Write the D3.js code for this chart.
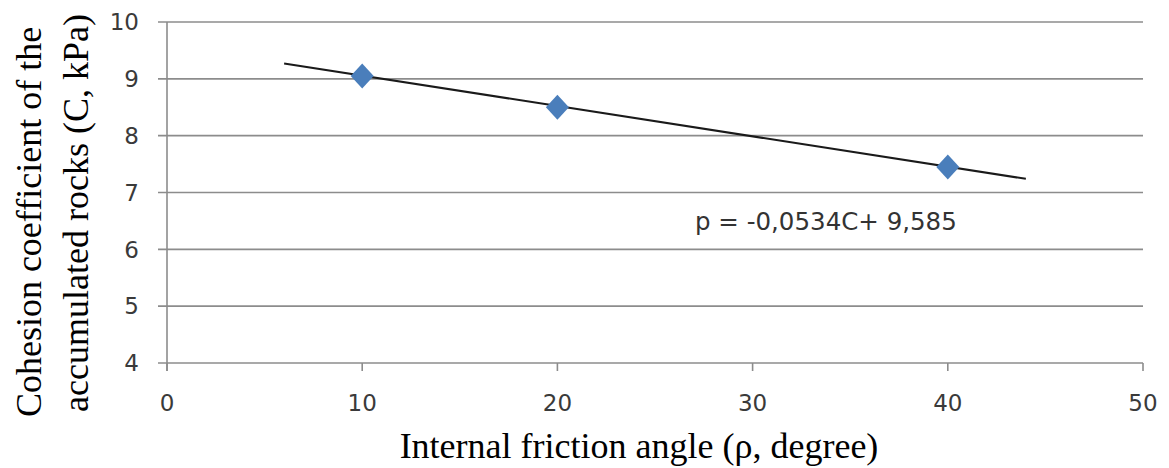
<!DOCTYPE html>
<html><head><meta charset="utf-8">
<script src="https://cdn.jsdelivr.net/npm/d3@7"></script>
<style>body{margin:0;background:#fff}svg{display:block}</style>
</head><body>
<script>
const xValues = [10, 20, 40];
const yValues = [9.05, 8.5, 7.45];
const trendX = [6, 44];
const trendY = [9.27, 7.24];
const xTicks = [0, 10, 20, 30, 40, 50];
const yTicks = [4, 5, 6, 7, 8, 9, 10];
const equationText = "p = -0,0534C+ 9,585";
const xTitle = "Internal friction angle (\u03c1, degree)";
const yTitleLines = ["Cohesion coefficient of the", "accumulated rocks (C, kPa)"];

const W = 1169, H = 468;
const svg = d3.select("body").append("svg").attr("width", W).attr("height", H);
const x = d3.scaleLinear().domain([0, 50]).range([167, 1143]);
const y = d3.scaleLinear().domain([4, 10]).range([363, 22]);
const gridColor = "#8c8c8c";
const tickFont = "'DejaVu Sans', Verdana, sans-serif";

// gridlines
svg.append("g").selectAll("line").data(yTicks).join("line")
  .attr("x1", x(0) - 9).attr("x2", x(50))
  .attr("y1", d => y(d)).attr("y2", d => y(d))
  .attr("stroke", gridColor).attr("stroke-width", 1.6);

// y axis line
svg.append("line").attr("x1", x(0)).attr("x2", x(0)).attr("y1", y(10)).attr("y2", y(4) + 8)
  .attr("stroke", gridColor).attr("stroke-width", 1.6);

// x ticks
svg.append("g").selectAll("line").data(xTicks).join("line")
  .attr("x1", d => x(d)).attr("x2", d => x(d)).attr("y1", y(4)).attr("y2", y(4) + 8)
  .attr("stroke", gridColor).attr("stroke-width", 1.6);

// tick labels
svg.append("g").selectAll("text").data(yTicks).join("text")
  .attr("x", 139).attr("y", d => y(d)).attr("dy", "0.36em")
  .attr("text-anchor", "end").attr("font-family", tickFont)
  .attr("font-size", 23).attr("fill", "#3a3a3a").text(d => d);
svg.append("g").selectAll("text").data(xTicks).join("text")
  .attr("x", d => x(d)).attr("y", 403).attr("dy", "0.36em")
  .attr("text-anchor", "middle").attr("font-family", tickFont)
  .attr("font-size", 23).attr("fill", "#3a3a3a").text(d => d);

// trendline
svg.append("line")
  .attr("x1", x(trendX[0])).attr("y1", y(trendY[0]))
  .attr("x2", x(trendX[1])).attr("y2", y(trendY[1]))
  .attr("stroke", "#1a1a1a").attr("stroke-width", 2);

// markers
const pts = xValues.map((v, i) => [v, yValues[i]]);
svg.append("g").selectAll("path").data(pts).join("path")
  .attr("transform", d => `translate(${x(d[0])},${y(d[1])})`)
  .attr("d", "M0,-12.5L11.5,0L0,12.5L-11.5,0Z")
  .attr("fill", "#4a7ebb");

// equation
svg.append("text").attr("x", 695).attr("y", 221).attr("dy", "0.36em")
  .attr("font-family", tickFont).attr("font-size", 24.5)
  .attr("fill", "#333").text(equationText);

// axis titles
svg.append("text").attr("x", 639).attr("y", 458)
  .attr("text-anchor", "middle").attr("font-family", "'Liberation Serif', 'Times New Roman', serif")
  .attr("font-size", 36).attr("fill", "#000").text(xTitle);
const yt = svg.append("text")
  .attr("text-anchor", "middle").attr("font-family", "'Liberation Serif', 'Times New Roman', serif")
  .attr("font-size", 36).attr("fill", "#000");
yt.selectAll("tspan").data(yTitleLines).join("tspan")
  .attr("x", (d, i) => i === 0 ? -222 : -213)
  .attr("y", (d, i) => i === 0 ? 41 : 88)
  .text(d => d);
yt.attr("transform", "rotate(-90)");
</script>
</body></html>
